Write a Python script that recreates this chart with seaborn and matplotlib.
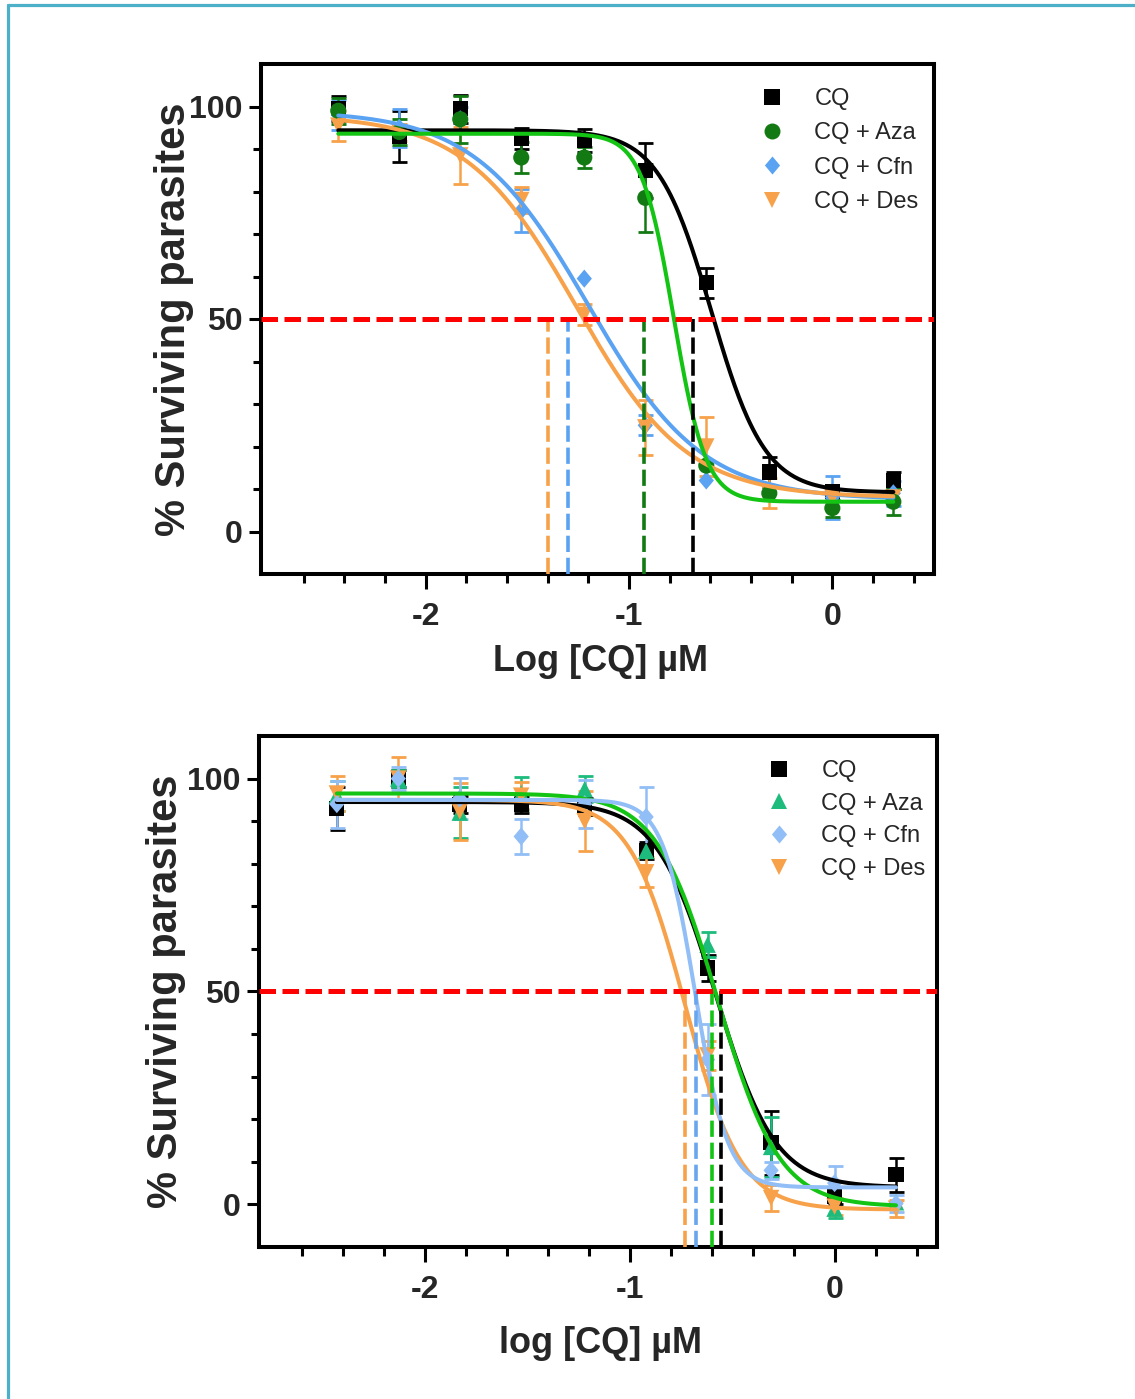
import numpy as np
import pandas as pd
import matplotlib
matplotlib.use("Agg")
import matplotlib.pyplot as plt
import seaborn as sns
from matplotlib.lines import Line2D
from matplotlib.path import Path
from matplotlib.ticker import FixedLocator

# ---------------------------------------------------------------- data
log_cq = [-2.43, -2.13, -1.83, -1.53, -1.22, -0.92, -0.62, -0.31, 0.00, 0.30]
series_names = ["CQ", "CQ + Aza", "CQ + Cfn", "CQ + Des"]

# panel A: mean % surviving parasites and SEM
a_cq = [99.5, 93.0, 99.5, 92.5, 92.0, 85.0, 58.5, 14.0, 9.5, 12.0]
a_cq_err = [3.0, 6.0, 3.3, 2.5, 2.8, 6.5, 3.5, 3.5, 1.5, 2.0]
a_aza = [99.0, 94.0, 97.0, 88.0, 88.0, 78.5, 15.5, 9.0, 5.5, 7.0]
a_aza_err = [3.0, 3.0, 5.5, 3.7, 2.5, 8.0, 1.5, 1.0, 2.0, 3.0]
a_cfn = [98.0, 95.0, 97.0, 75.5, 59.5, 25.0, 12.0, 9.5, 8.0, 9.0]
a_cfn_err = [3.5, 4.5, 3.0, 5.0, 0.8, 2.3, 1.0, 1.0, 5.0, 3.0]
a_des = [95.5, 94.0, 88.5, 78.0, 51.0, 24.5, 20.0, 9.0, 8.0, 8.0]
a_des_err = [3.5, 2.0, 6.7, 3.0, 2.5, 6.5, 7.0, 3.5, 1.5, 1.5]

# panel A: four-parameter logistic fits (top, bottom, logIC50, Hill slope)
a_fit_top = [94.4, 93.6, 99.0, 98.0]
a_fit_bottom = [9.2, 7.0, 7.5, 8.0]
a_fit_logic50 = [-0.595, -0.78, -1.20, -1.26]
a_fit_hill = [3.3, 5.5, 1.55, 1.6]
a_ic50_marks = [-0.685, -0.925, -1.30, -1.40]

# panel B
b_cq = [93.0, 100.0, 94.0, 94.0, 93.5, 83.0, 55.5, 14.5, 2.0, 7.0]
b_cq_err = [5.0, 2.0, 2.0, 2.0, 2.0, 2.0, 3.0, 7.5, 2.0, 4.0]
b_aza = [96.0, 100.0, 92.0, 96.5, 97.5, 83.0, 61.0, 13.5, -1.0, 0.5]
b_aza_err = [3.5, 2.0, 6.0, 3.8, 3.0, 1.5, 3.0, 7.0, 2.3, 1.5]
b_cfn = [94.0, 100.0, 95.3, 86.4, 94.0, 91.0, 34.0, 8.0, 5.0, 0.2]
b_cfn_err = [5.5, 2.7, 4.9, 4.0, 5.6, 7.0, 8.4, 2.0, 4.0, 2.0]
b_des = [96.5, 100.0, 92.3, 96.0, 90.0, 78.0, 35.0, 1.5, -0.5, -1.0]
b_des_err = [4.2, 5.0, 6.7, 3.2, 7.0, 3.5, 3.4, 3.0, 2.0, 2.0]

b_fit_top = [94.5, 96.5, 95.0, 95.0]
b_fit_bottom = [4.0, -0.5, 4.0, -1.2]
b_fit_logic50 = [-0.58, -0.57, -0.68, -0.73]
b_fit_hill = [3.0, 2.9, 5.5, 3.2]
b_ic50_marks = [-0.555, -0.60, -0.677, -0.731]

x_ticks = [-2, -1, 0]
y_ticks = [0, 50, 100]


def four_pl(x, top, bottom, log_ic50, hill):
    return bottom + (top - bottom) / (1.0 + 10.0 ** ((x - log_ic50) * hill))


# ---------------------------------------------------------------- style
sns.set_style("ticks")
plt.rcParams["font.family"] = ["Liberation Sans", "DejaVu Sans"]

DIAMOND = Path([(0, 0.5), (0.42, 0), (0, -0.5), (-0.42, 0), (0, 0.5)],
               [Path.MOVETO, Path.LINETO, Path.LINETO, Path.LINETO, Path.CLOSEPOLY])

# error bars shorter than this (in % units) are hidden behind the symbol
MIN_VISIBLE_ERR = 1.6

fig = plt.figure(figsize=(11.35, 13.99), dpi=100)
fig.patch.set_facecolor("white")

ax_a = fig.add_axes([261 / 1135, 1 - 574 / 1399, 673 / 1135, 510 / 1399])
ax_b = fig.add_axes([259 / 1135, 1 - 1247 / 1399, 678 / 1135, 511 / 1399])


def draw_panel(ax, means, errs, fits, ic50_marks, styles, marker_order,
               curve_order, xlabel, legend_anchor, label_spacing,
               ylabel_x, xlabel_y):
    x = np.asarray(log_cq)

    # error bars
    for i in marker_order:
        st = styles[i]
        m = np.asarray(means[i], dtype=float)
        e = np.asarray(errs[i], dtype=float)
        keep = e >= MIN_VISIBLE_ERR
        ax.errorbar(x[keep], m[keep], yerr=e[keep], fmt="none", ecolor=st["color"],
                    elinewidth=1.8, capsize=5.4, capthick=2.0, zorder=2)

    # data points
    for i in marker_order:
        st = styles[i]
        sns.scatterplot(x=x, y=means[i], marker=st["marker"], s=st["s"],
                        color=st["color"], edgecolor="none", linewidth=0,
                        ax=ax, zorder=3, legend=False)

    # fitted dose-response curves
    for i in curve_order:
        st = styles[i]
        top, bottom, lic, hill = fits[i]
        xs = np.linspace(x[0], x[-1], 400)
        df = pd.DataFrame({"x": xs, "y": four_pl(xs, top, bottom, lic, hill)})
        sns.lineplot(data=df, x="x", y="y", color=st["curve"], lw=2.9,
                     estimator=None, sort=True, ax=ax, zorder=4)

    # IC50 drop lines
    for i in range(4):
        ax.plot([ic50_marks[i], ic50_marks[i]], [-10, 50],
                color=styles[i]["drop"], lw=2.6, dashes=(4.5, 1.6),
                solid_capstyle="butt", dash_capstyle="butt", zorder=5)

    # 50 % reference line
    ax.axhline(50, color="#ff0000", lw=3.6, dashes=(3.3, 1.3),
               dash_capstyle="butt", zorder=6)

    ax.set_xlim(-2.81, 0.50)
    ax.set_ylim(-10, 110)
    ax.xaxis.set_major_locator(FixedLocator(x_ticks))
    ax.xaxis.set_minor_locator(FixedLocator(
        [round(v, 1) for v in np.arange(-2.6, 0.41, 0.2) if abs(v - round(v)) > 1e-6]))
    ax.yaxis.set_major_locator(FixedLocator(y_ticks))
    ax.yaxis.set_minor_locator(FixedLocator(list(range(0, 101, 10))))
    ax.set_xticklabels([str(v) for v in x_ticks])
    ax.set_yticklabels([str(v) for v in y_ticks])

    for side in ["left", "right", "top", "bottom"]:
        ax.spines[side].set_visible(True)
        ax.spines[side].set_linewidth(2.9)
        ax.spines[side].set_color("black")

    ax.tick_params(axis="x", which="major", direction="out", length=11, width=2.2,
                   pad=9, labelsize=23, color="black")
    ax.tick_params(axis="x", which="minor", direction="out", length=6.5, width=2.2,
                   color="black")
    ax.tick_params(axis="y", which="major", direction="out", length=9, width=2.2,
                   pad=4, labelsize=23, color="black")
    ax.tick_params(axis="y", which="minor", direction="out", length=5.5, width=2.2,
                   color="black")
    ax.tick_params(top=False, right=False)
    for lab in ax.get_xticklabels() + ax.get_yticklabels():
        lab.set_fontweight("bold")

    ax.set_xlabel(xlabel, fontsize=26, fontweight="bold")
    ax.set_ylabel("% Surviving parasites", fontsize=30, fontweight="bold")
    ax.xaxis.label.set_va("center")
    ax.yaxis.label.set_va("center")
    ax.xaxis.set_label_coords(0.504, xlabel_y)
    ax.yaxis.set_label_coords(ylabel_x, 0.5)

    handles = [Line2D([], [], ls="none", marker=styles[i]["marker"],
                      markersize=styles[i]["ms"], color=styles[i]["color"],
                      markeredgewidth=0) for i in range(4)]
    ax.legend(handles, series_names, loc="upper left", bbox_to_anchor=legend_anchor,
              frameon=False, fontsize=17, handlelength=2.0, handletextpad=0.8,
              labelspacing=label_spacing, borderpad=0, borderaxespad=0)


styles_a = [
    dict(color="#000000", curve="#000000", drop="#000000", marker="s", s=120, ms=11),
    dict(color="#137a13", curve="#14c414", drop="#137a13", marker="o", s=135, ms=11.5),
    dict(color="#5aa2f2", curve="#5aa2f2", drop="#5aa2f2", marker=DIAMOND, s=170, ms=13),
    dict(color="#f7a24a", curve="#f7a24a", drop="#f7a24a", marker="v", s=140, ms=11.5),
]
styles_b = [
    dict(color="#000000", curve="#000000", drop="#000000", marker="s", s=120, ms=11),
    dict(color="#1dbb7c", curve="#14c414", drop="#14c414", marker="^", s=140, ms=11.5),
    dict(color="#91bef6", curve="#91bef6", drop="#6aa6ee", marker=DIAMOND, s=170, ms=13),
    dict(color="#f7a24a", curve="#f7a24a", drop="#f7a24a", marker="v", s=140, ms=11.5),
]

fits_a = list(zip(a_fit_top, a_fit_bottom, a_fit_logic50, a_fit_hill))
fits_b = list(zip(b_fit_top, b_fit_bottom, b_fit_logic50, b_fit_hill))

draw_panel(ax_a,
           [a_cq, a_aza, a_cfn, a_des], [a_cq_err, a_aza_err, a_cfn_err, a_des_err],
           fits_a, a_ic50_marks, styles_a,
           marker_order=[0, 2, 3, 1], curve_order=[0, 2, 3, 1],
           xlabel="Log [CQ] µM", legend_anchor=(0.724, 0.953), label_spacing=0.52,
           ylabel_x=-0.13, xlabel_y=-0.1725)

draw_panel(ax_b,
           [b_cq, b_aza, b_cfn, b_des], [b_cq_err, b_aza_err, b_cfn_err, b_des_err],
           fits_b, b_ic50_marks, styles_b,
           marker_order=[0, 1, 3, 2], curve_order=[0, 3, 1, 2],
           xlabel="log [CQ] µM", legend_anchor=(0.732, 0.953), label_spacing=0.45,
           ylabel_x=-0.137, xlabel_y=-0.188)

# page frame
frame_color = "#4bb0c8"
fig.add_artist(Line2D([8 / 1135, 8 / 1135], [0, 1 - 5 / 1399],
                      transform=fig.transFigure, color=frame_color, lw=2.3))
fig.add_artist(Line2D([8 / 1135, 1], [1 - 5 / 1399, 1 - 5 / 1399],
                      transform=fig.transFigure, color=frame_color, lw=2.3))

fig.savefig("out.png", dpi=100, facecolor="white")
